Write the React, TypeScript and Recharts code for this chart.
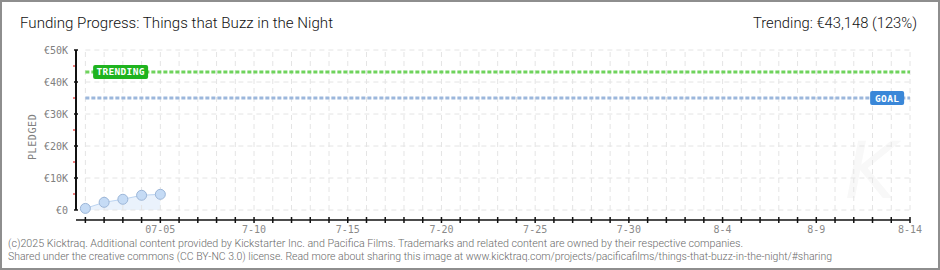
import React from 'react';
import { ComposedChart, Area, XAxis, YAxis, ReferenceLine, ReferenceDot } from 'recharts';

// pledged totals per campaign day (day 0 = 7/1)
const days = [0, 1, 2, 3, 4];
const pledged = [500, 2400, 3350, 4600, 4900];

const trending = 43148;
const goal = 35000;

const allDays = Array.from({ length: 45 }, (_, i) => i);
const labelDays = [4, 9, 14, 19, 24, 29, 34, 39, 44];
const labelTexts = ['07-05', '7-10', '7-15', '7-20', '7-25', '7-30', '8-4', '8-9', '8-14'];

const yMajor = [0, 10000, 20000, 30000, 40000, 50000];
const yLabels = ['€0', '€10K', '€20K', '€30K', '€40K', '€50K'];
const yAll = [0, 5000, 10000, 15000, 20000, 25000, 30000, 35000, 40000, 45000, 50000];

const data = days.map((d, i) => ({ day: d, pledged: pledged[i] }));

const MONO = '"DejaVu Sans Mono", monospace';
const GRID = '#e4e4e4';

const XTick = (props: any) => {
  const { x, y, payload } = props;
  const idx = labelDays.indexOf(payload.value);
  return (
    <g>
      <line x1={x} x2={x} y1={y - 3} y2={y + 3} stroke="#111" strokeWidth={1.5} />
      {idx >= 0 && (
        <text x={x} y={y + 13} textAnchor="middle" fontFamily={MONO} fontSize={10} fill="#8a8a8a">
          {labelTexts[idx]}
        </text>
      )}
    </g>
  );
};

const YTick = (props: any) => {
  const { x, y, payload } = props;
  const idx = yMajor.indexOf(payload.value);
  if (idx < 0) {
    return <line x1={x - 3} x2={x - 1} y1={y} y2={y} stroke="#e00000" strokeWidth={1.2} />;
  }
  return (
    <g>
      <line x1={x - 2} x2={x + 2} y1={y} y2={y} stroke="#111" strokeWidth={1.5} />
      <text x={x - 8} y={y + 3.5} textAnchor="end" fontFamily={MONO} fontSize={10} fill="#808080">
        {yLabels[idx]}
      </text>
    </g>
  );
};

const Badge = (text: string, fill: string, w: number) => (props: any) => {
  const { cx, cy } = props;
  return (
    <g>
      <rect x={cx - w / 2} y={cy - 7} width={w} height={14} rx={2} fill={fill} />
      <text x={cx} y={cy + 3.5} textAnchor="middle" fontFamily={MONO} fontWeight="bold" fontSize={9.5} fill="#fff" letterSpacing={0.3}>
        {text}
      </text>
    </g>
  );
};

const TrendBadge = Badge('TRENDING', '#1fb31f', 55);
const GoalBadge = Badge('GOAL', '#3a87d8', 34);

export default function App() {
  return (
    <div style={{ position: 'absolute', left: 0, top: 0, width: 940, height: 270, background: '#fff' }}>
      {/* faint watermark */}
      <svg width={940} height={270} style={{ position: 'absolute', left: 0, top: 0 }}>
        <text x={845} y={198} fontFamily="DejaVu Sans" fontStyle="italic" fontSize={78} fill="#f8f8f8">
          K
        </text>
      </svg>

      <div style={{ position: 'absolute', left: 0, top: 0 }}>
        <ComposedChart width={940} height={270} data={data} margin={{ top: 50, right: 30, left: 0, bottom: 30 }}>
          <XAxis
            dataKey="day"
            type="number"
            domain={[-0.5, 44]}
            allowDataOverflow
            ticks={allDays}
            interval={0}
            height={20}
            tickSize={0}
            tickMargin={0}
            tickLine={false}
            axisLine={{ stroke: '#111', strokeWidth: 1.5 }}
            tick={XTick}
          />
          <YAxis
            type="number"
            domain={[-3125, 50000]}
            allowDataOverflow
            ticks={yAll}
            interval={0}
            width={76}
            tickSize={0}
            tickMargin={0}
            tickLine={false}
            axisLine={false}
            tick={YTick}
            label={{ value: 'PLEDGED', angle: -90, position: 'insideLeft', offset: 32, fill: '#808080', fontFamily: MONO, fontSize: 10, letterSpacing: 0.6, dy: 25 }}
          />

          {/* grid */}
          {yMajor.map((v) => (
            <ReferenceLine key={'h' + v} segment={[{ x: 0, y: v }, { x: 44, y: v }]} stroke={GRID} strokeDasharray="5 4" />
          ))}
          {allDays.map((d) => (
            <ReferenceLine key={'v' + d} segment={[{ x: d, y: 0 }, { x: d, y: 50000 }]} stroke={GRID} strokeDasharray="5 4" />
          ))}

          {/* y axis line stops at €0 */}
          <ReferenceLine segment={[{ x: -0.5, y: 0 }, { x: -0.5, y: 50000 }]} stroke="#111" strokeWidth={2} />

          <ReferenceLine segment={[{ x: 0, y: goal }, { x: 44, y: goal }]} stroke="#9cb7dc" strokeWidth={3} strokeDasharray="4 2" />
          <ReferenceLine segment={[{ x: 0, y: trending }, { x: 44, y: trending }]} stroke="#6fd35c" strokeWidth={3} strokeDasharray="4 2" />

          <Area
            dataKey="pledged"
            type="linear"
            baseValue={0}
            stroke="#bcd4f1"
            strokeWidth={1}
            fill="#eaf2fc"
            fillOpacity={1}
            dot={{ r: 5, fill: '#c5dbf5', stroke: '#9cb6d8', strokeWidth: 1 }}
            isAnimationActive={false}
          />

          <ReferenceDot x={1.88} y={trending} r={0} shape={TrendBadge} />
          <ReferenceDot x={42.78} y={goal} r={0} shape={GoalBadge} />
        </ComposedChart>
      </div>

      {/* title, summary, footer and frame */}
      <svg width={940} height={270} style={{ position: 'absolute', left: 0, top: 0, pointerEvents: 'none' }}>
        <text x={20} y={28} fontFamily="Roboto" fontWeight={300} fontSize={15} fill="#111" textLength={313} lengthAdjust="spacingAndGlyphs">
          Funding Progress: Things that Buzz in the Night
        </text>
        <text x={917} y={28} textAnchor="end" fontFamily="Roboto" fontWeight={300} fontSize={15} fill="#111" textLength={164} lengthAdjust="spacingAndGlyphs">
          Trending: €43,148 (123%)
        </text>
        <text x={8} y={247} fontFamily="Roboto" fontWeight={300} fontSize={10.5} fill="#6a6a6a" textLength={735} lengthAdjust="spacingAndGlyphs">
          (c)2025 Kicktraq. Additional content provided by Kickstarter Inc. and Pacifica Films. Trademarks and related content are owned by their respective companies.
        </text>
        <text x={8} y={260} fontFamily="Roboto" fontWeight={300} fontSize={10.5} fill="#6a6a6a" textLength={824} lengthAdjust="spacingAndGlyphs">
          Shared under the creative commons (CC BY-NC 3.0) license. Read more about sharing this image at www.kicktraq.com/projects/pacificafilms/things-that-buzz-in-the-night/#sharing
        </text>
        <rect x={1} y={1} width={938} height={268} fill="none" stroke="#8e8e8e" strokeWidth={2} />
      </svg>
    </div>
  );
}
